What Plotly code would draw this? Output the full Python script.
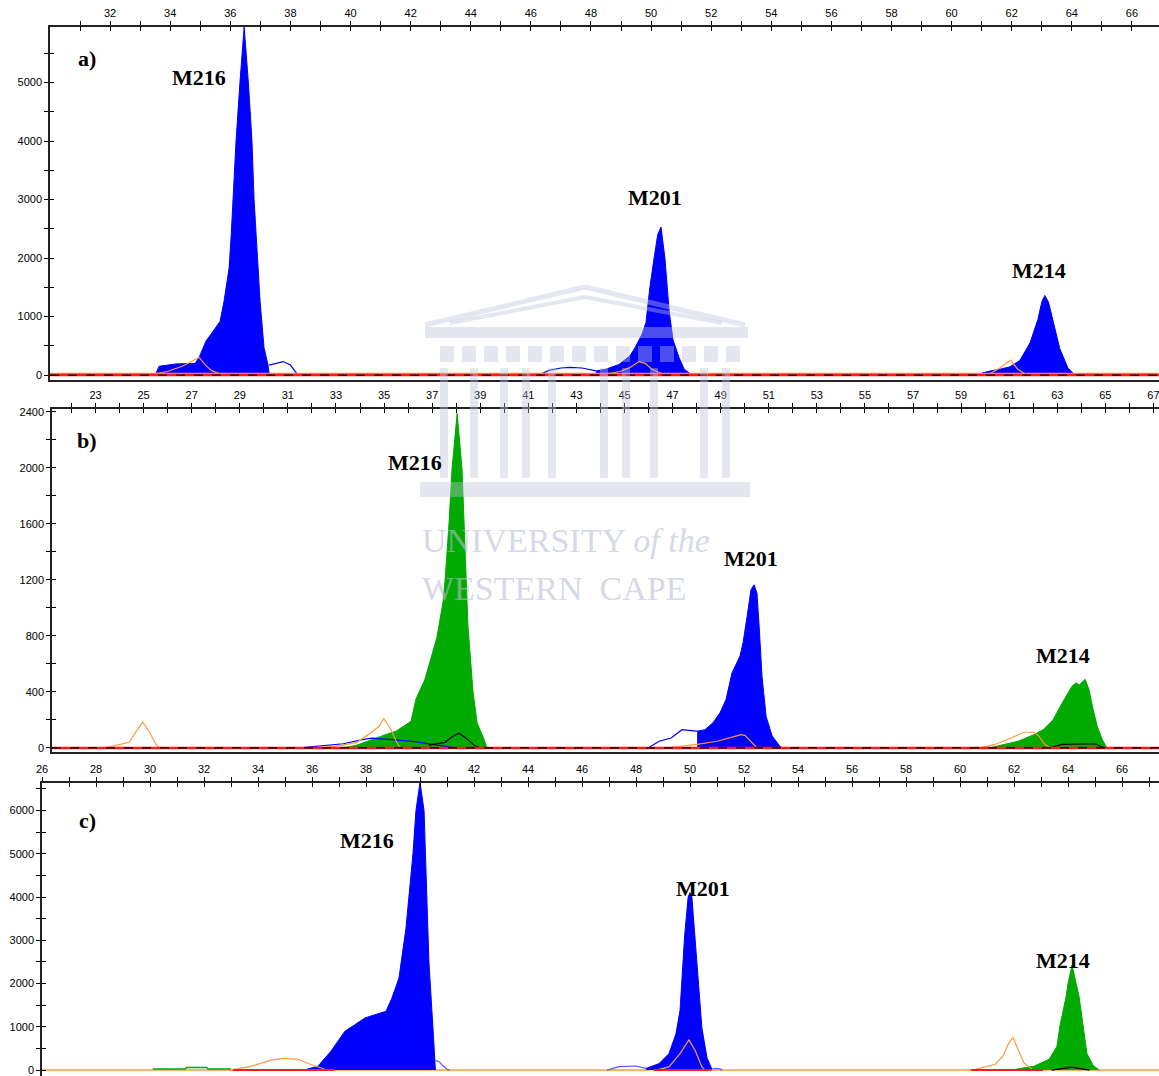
import plotly.graph_objects as go

W, H = 1159, 1076

# ---------------- Panel a data ----------------
A_M216_X = [33.50, 33.63, 34.20, 34.83, 34.96, 35.19, 35.39, 35.66, 35.79, 35.96, 36.03, 36.09, 36.19, 36.32, 36.46, 36.60, 36.72, 36.79, 36.86, 36.99, 37.12, 37.25, 37.30]
A_M216_Y = [0, 150, 190, 200, 300, 580, 720, 920, 1260, 1830, 2400, 3000, 4000, 5000, 5950, 5000, 4000, 3000, 2400, 1260, 470, 180, 0]
A_M216_TAIL_X = [37.28, 37.50, 37.76, 38.00, 38.15, 38.25]
A_M216_TAIL_Y = [170, 200, 230, 170, 60, 0]
A_M201_PRE_X = [46.27, 46.60, 47.00, 47.30, 47.70, 48.00, 48.17]
A_M201_PRE_Y = [0, 80, 120, 130, 120, 90, 70]
A_M201_X = [48.17, 48.50, 48.93, 49.30, 49.47, 49.70, 49.83, 49.96, 50.10, 50.22, 50.33, 50.46, 50.60, 50.73, 50.93, 51.10, 51.36]
A_M201_Y = [70, 100, 180, 330, 470, 700, 900, 1500, 2000, 2400, 2530, 2000, 1100, 600, 300, 100, 0]
A_M214_X = [60.78, 61.20, 61.61, 61.94, 62.27, 62.61, 62.87, 63.00, 63.10, 63.22, 63.34, 63.60, 63.87, 64.10]
A_M214_Y = [0, 60, 100, 140, 250, 550, 950, 1250, 1360, 1250, 1000, 450, 120, 0]
A_OR1_X = [33.30, 33.90, 34.40, 34.96, 35.19, 35.39, 35.66, 35.93]
A_OR1_Y = [0, 60, 150, 300, 160, 70, 20, 0]
A_OR2_X = [48.30, 48.97, 49.30, 49.60, 49.80, 50.03, 50.46]
A_OR2_Y = [0, 60, 130, 230, 200, 100, 0]
A_OR3_X = [61.20, 61.60, 61.97, 62.20, 62.50]
A_OR3_Y = [0, 120, 256, 100, 0]
A_BASE_X = [30.0, 66.9]
A_BASE_Y = [0, 0]

# ---------------- Panel b data ----------------
B_OR1_X = [23.40, 24.00, 24.40, 24.70, 24.97, 25.25, 25.50, 25.65]
B_OR1_Y = [0, 25, 40, 120, 185, 110, 30, 0]
B_M216_X = [33.29, 33.87, 35.08, 35.50, 36.12, 36.33, 36.70, 36.99, 37.20, 37.45, 37.54, 37.70, 37.83, 38.04, 38.24, 38.33, 38.41, 38.49, 38.70, 38.87, 39.16, 39.28]
B_M216_Y = [0, 20, 96, 120, 190, 350, 490, 660, 790, 1040, 1200, 1600, 2000, 2390, 2000, 1600, 1200, 870, 400, 180, 60, 0]
B_BLUE1_X = [31.50, 32.40, 33.30, 34.10, 34.50, 35.30, 36.30, 37.00, 37.60, 38.00]
B_BLUE1_Y = [0, 15, 30, 60, 70, 60, 45, 25, 10, 0]
B_OR2_X = [32.38, 33.30, 33.87, 34.46, 34.79, 34.99, 35.29, 35.50, 35.67]
B_OR2_Y = [0, 20, 40, 108, 155, 210, 130, 50, 0]
B_BLK1_X = [36.87, 37.54, 37.83, 38.12, 38.41, 38.78, 39.00]
B_BLK1_Y = [20, 40, 80, 105, 70, 15, 0]
B_M201_PRE_X = [45.98, 46.44, 46.94, 47.39, 47.97, 48.02]
B_M201_PRE_Y = [0, 48, 71, 130, 120, 120]
B_M201_X = [48.02, 48.35, 48.68, 48.97, 49.22, 49.47, 49.80, 49.93, 50.10, 50.26, 50.39, 50.51, 50.60, 50.72, 50.89, 51.14, 51.47, 51.60]
B_M201_Y = [120, 130, 180, 250, 345, 535, 655, 750, 940, 1130, 1165, 1105, 870, 510, 225, 85, 10, 0]
B_OR3_X = [46.77, 48.02, 48.85, 49.31, 49.85, 50.01, 50.26, 50.51]
B_OR3_Y = [0, 25, 48, 71, 95, 90, 48, 0]
B_M214_X = [60.20, 60.41, 61.37, 62.03, 62.41, 62.82, 63.20, 63.61, 63.78, 63.91, 64.16, 64.32, 64.49, 64.66, 64.87, 65.03, 65.10]
B_M214_Y = [0, 10, 48, 95, 130, 200, 320, 440, 465, 450, 490, 415, 275, 155, 60, 10, 0]
B_OR4_X = [59.79, 60.41, 61.08, 61.62, 62.03, 62.24, 62.49, 62.74]
B_OR4_Y = [0, 25, 71, 112, 112, 83, 24, 0]
B_BLK2_X = [62.70, 63.20, 64.20, 64.60, 64.80, 65.00]
B_BLK2_Y = [0, 25, 28, 28, 10, 0]
B_BASE_X = [21.19, 67.23]
B_BASE_Y = [0, 0]

# ---------------- Panel c data ----------------
C_M216_X = [35.70, 36.22, 36.70, 37.22, 37.59, 37.96, 38.33, 38.74, 38.96, 39.22, 39.48, 39.67, 39.74, 39.85, 40.00, 40.15, 40.22, 40.33, 40.48, 40.55, 40.57]
C_M216_Y = [0, 90, 435, 900, 1050, 1205, 1280, 1360, 1665, 2125, 3280, 4430, 5000, 6000, 6650, 6000, 4430, 2500, 975, 220, 0]
C_M216_TAIL_X = [40.57, 40.70, 40.85, 41.00, 41.10]
C_M216_TAIL_Y = [220, 200, 100, 20, 0]
C_OR1_X = [32.96, 33.70, 34.48, 34.96, 35.48, 35.96, 36.48, 36.70]
C_OR1_Y = [0, 80, 230, 270, 250, 130, 20, 0]
C_GRN1_X = [30.10, 31.30, 31.35, 32.10, 32.15, 33.00]
C_GRN1_Y = [25, 25, 60, 60, 25, 25]
C_M201_PRE_X = [46.93, 47.37, 48.00, 48.37]
C_M201_PRE_Y = [0, 80, 95, 40]
C_M201_X = [48.37, 48.85, 49.22, 49.48, 49.63, 49.74, 49.80, 49.93, 50.00, 50.07, 50.19, 50.30, 50.44, 50.63, 50.81]
C_M201_Y = [40, 150, 380, 840, 1380, 2500, 3100, 4000, 4100, 4000, 3000, 2000, 975, 285, 20]
C_M201_TAIL_X = [50.81, 50.95, 51.11, 51.20]
C_M201_TAIL_Y = [20, 40, 30, 0]
C_OR2_X = [48.74, 49.22, 49.63, 49.96, 50.19, 50.44, 50.56]
C_OR2_Y = [0, 75, 380, 700, 455, 75, 0]
C_M214_X = [61.89, 62.74, 63.30, 63.59, 63.70, 63.85, 63.93, 64.00, 64.15, 64.30, 64.41, 64.56, 64.70, 64.93, 65.15]
C_M214_Y = [0, 90, 250, 550, 1020, 1475, 1700, 2000, 2430, 2000, 1700, 1020, 385, 110, 0]
C_OR3_X = [60.48, 61.30, 61.59, 61.81, 61.96, 62.15, 62.37, 62.67, 62.81]
C_OR3_Y = [0, 135, 320, 630, 750, 475, 165, 20, 0]
C_BLK_X = [63.40, 63.80, 64.15, 64.50, 64.80]
C_BLK_Y = [0, 30, 70, 30, 0]
C_RED_SEGS = [([33.07, 36.85], [0, 0]), ([48.67, 50.78], [0, 0]), ([60.41, 63.07], [0, 0])]
C_BASE_X = [26.0, 67.37]
C_BASE_Y = [0, 0]

# ---------------- Axis ticks ----------------
A_XTICKS = list(range(31, 67))
A_XLABELS = [str(v) if v % 2 == 0 else "" for v in A_XTICKS]
B_XTICKS = list(range(22, 68))
B_XLABELS = [str(v) if v % 2 == 1 else "" for v in B_XTICKS]
C_XTICKS = list(range(26, 68))
C_XLABELS = [str(v) if v % 2 == 0 else "" for v in C_XTICKS]
A_YTICKS = list(range(0, 6000, 500))
A_YLABELS = [str(v) if v % 1000 == 0 else "" for v in A_YTICKS]
B_YTICKS = list(range(0, 2401, 200))
B_YLABELS = [str(v) if v % 400 == 0 else "" for v in B_YTICKS]
C_YTICKS = list(range(0, 6501, 500))
C_YLABELS = [str(v) if v % 1000 == 0 else "" for v in C_YTICKS]

BLUE = "#0000ff"
GREEN = "#00aa00"
ORANGE = "#ff9a3c"
RED = "#ff1a1a"
BLACK = "#000000"

fig = go.Figure()


def fill(x, y, color, xa, ya):
    fig.add_trace(go.Scatter(x=x, y=y, mode="lines", fill="tozeroy", fillcolor=color,
                             line=dict(color=color, width=1), xaxis=xa, yaxis=ya, hoverinfo="skip"))


def line(x, y, color, xa, ya, width=1.2, dash=None):
    fig.add_trace(go.Scatter(x=x, y=y, mode="lines",
                             line=dict(color=color, width=width, dash=dash),
                             xaxis=xa, yaxis=ya, hoverinfo="skip"))


# Panel a
fill(A_M216_X, A_M216_Y, BLUE, "x", "y")
fill(A_M201_X, A_M201_Y, BLUE, "x", "y")
fill(A_M214_X, A_M214_Y, BLUE, "x", "y")
line(A_M216_TAIL_X, A_M216_TAIL_Y, BLUE, "x", "y", 1.2)
line(A_M201_PRE_X, A_M201_PRE_Y, BLUE, "x", "y", 1.2)
line(A_BASE_X, [v + 25 for v in A_BASE_Y], ORANGE, "x", "y", 1.5)
line(A_OR1_X, A_OR1_Y, ORANGE, "x", "y")
line(A_OR2_X, A_OR2_Y, ORANGE, "x", "y")
line(A_OR3_X, A_OR3_Y, ORANGE, "x", "y")
line(A_BASE_X, A_BASE_Y, RED, "x", "y", 2.5)
line(A_BASE_X, A_BASE_Y, BLACK, "x", "y", 1.2, "dash")

# Panel b
fill(B_M216_X, B_M216_Y, GREEN, "x2", "y2")
fill(B_M201_X, B_M201_Y, BLUE, "x2", "y2")
fill(B_M214_X, B_M214_Y, GREEN, "x2", "y2")
line(B_BLUE1_X, B_BLUE1_Y, BLUE, "x2", "y2")
line(B_M201_PRE_X, B_M201_PRE_Y, BLUE, "x2", "y2")
line(B_OR1_X, B_OR1_Y, ORANGE, "x2", "y2")
line(B_OR2_X, B_OR2_Y, ORANGE, "x2", "y2")
line(B_OR3_X, B_OR3_Y, ORANGE, "x2", "y2")
line(B_OR4_X, B_OR4_Y, ORANGE, "x2", "y2")
line(B_BLK1_X, B_BLK1_Y, BLACK, "x2", "y2")
line(B_BLK2_X, B_BLK2_Y, BLACK, "x2", "y2")
line(B_BASE_X, B_BASE_Y, RED, "x2", "y2", 2.5)
line(B_BASE_X, B_BASE_Y, BLACK, "x2", "y2", 1.2, "dash")

# Panel c
line(C_BASE_X, C_BASE_Y, ORANGE, "x3", "y3", 1.5)
line(C_GRN1_X, C_GRN1_Y, GREEN, "x3", "y3", 1.5)
fill(C_M216_X, C_M216_Y, BLUE, "x3", "y3")
fill(C_M201_X, C_M201_Y, BLUE, "x3", "y3")
fill(C_M214_X, C_M214_Y, GREEN, "x3", "y3")
line(C_M216_TAIL_X, C_M216_TAIL_Y, "#5555ff", "x3", "y3")
line(C_M201_PRE_X, C_M201_PRE_Y, "#5555ff", "x3", "y3")
line(C_M201_TAIL_X, C_M201_TAIL_Y, "#5555ff", "x3", "y3")
line(C_OR1_X, C_OR1_Y, ORANGE, "x3", "y3")
line(C_OR2_X, C_OR2_Y, ORANGE, "x3", "y3")
line(C_OR3_X, C_OR3_Y, ORANGE, "x3", "y3")
line(C_BLK_X, C_BLK_Y, BLACK, "x3", "y3")
for sx, sy in C_RED_SEGS:
    line(sx, sy, RED, "x3", "y3", 2)

# dummy traces for overlay (inside tick) axes
for xa, ya, xr in (("x4", "y4", A_BASE_X), ("x5", "y5", B_BASE_X), ("x6", "y6", C_BASE_X)):
    fig.add_trace(go.Scatter(x=xr, y=[0, 0], mode="markers", marker=dict(opacity=0),
                             xaxis=xa, yaxis=ya, hoverinfo="skip"))


def py(p):
    return 1 - p / H


def px(p):
    return p / W


TICKFONT = dict(family="Liberation Sans, Arial, sans-serif", size=11, color="#000")

panels = [
    (50, 27, 380, [30.0, 66.9], [-85, 5950], A_XTICKS, A_XLABELS, A_YTICKS, A_YLABELS),
    (52, 409, 752, [21.19, 67.23], [-29, 2421], B_XTICKS, B_XLABELS, B_YTICKS, B_YLABELS),
    (42, 783, 1076, [26.0, 67.37], [-136, 6636], C_XTICKS, C_XLABELS, C_YTICKS, C_YLABELS),
]

layout = {}
for i, (xl, yt, yb, xr, yr, xt, xlab, yt_, ylab) in enumerate(panels):
    n = i + 1
    o = i + 4
    xk = "xaxis" if n == 1 else f"xaxis{n}"
    yk = "yaxis" if n == 1 else f"yaxis{n}"
    xid = "x" if n == 1 else f"x{n}"
    yid = "y" if n == 1 else f"y{n}"
    xdom = [px(xl), 1]
    ydom = [max(0, py(yb)), py(yt)]
    layout[xk] = dict(domain=xdom, anchor=yid, side="top", range=xr, tickmode="array",
                      tickvals=xt, ticktext=xlab, ticks="outside", ticklen=4, tickwidth=1,
                      tickcolor="#000", showline=True, linecolor="#222", linewidth=1.5,
                      mirror=True, showgrid=False, zeroline=False, tickfont=TICKFONT,
                      automargin=False, ticklabeloverflow="allow")
    layout[yk] = dict(domain=ydom, anchor=xid, side="left", range=yr, tickmode="array",
                      tickvals=yt_, ticktext=ylab, ticks="outside", ticklen=4, tickwidth=1,
                      tickcolor="#000", showline=True, linecolor="#222", linewidth=1.5,
                      showgrid=False, zeroline=False, tickfont=TICKFONT, automargin=False,
                      ticklabeloverflow="allow")
    layout[f"xaxis{o}"] = dict(domain=xdom, overlaying=xid, anchor=yid, side="top", range=xr,
                               tickmode="array", tickvals=xt, ticks="inside", ticklen=4,
                               tickwidth=1, tickcolor="#000", showticklabels=False,
                               showline=False, showgrid=False, zeroline=False, automargin=False)
    layout[f"yaxis{o}"] = dict(domain=ydom, overlaying=yid, anchor=xid, side="left", range=yr,
                               tickmode="array", tickvals=yt_, ticks="inside", ticklen=4,
                               tickwidth=1, tickcolor="#000", showticklabels=False,
                               showline=False, showgrid=False, zeroline=False, automargin=False)

LABELS = [
    ("a)", 87, 58), ("M216", 199, 78), ("M201", 655, 198), ("M214", 1039, 270),
    ("b)", 87, 440), ("M216", 415, 462), ("M201", 751, 558), ("M214", 1063, 655),
    ("c)", 87, 820), ("M216", 367, 840), ("M201", 703, 888), ("M214", 1063, 960),
]
annotations = []
for t, x, y in LABELS:
    annotations.append(dict(text=f"<b>{t}</b>", x=px(x), y=py(y), xref="paper", yref="paper",
                            showarrow=False, xanchor="center", yanchor="middle",
                            font=dict(family="Liberation Serif, Times New Roman, serif", size=22, color="#000")))

WM = "rgba(190,195,218,0.4)"
WM_TXT = "rgba(185,190,215,0.6)"
annotations.append(dict(text="UNIVERSITY <i>of the</i>", x=px(420), y=py(540), xref="paper", yref="paper",
                        showarrow=False, xanchor="left", yanchor="middle",
                        font=dict(family="Liberation Serif, serif", size=34, color=WM_TXT)))
annotations.append(dict(text="WESTERN  CAPE", x=px(420), y=py(588), xref="paper", yref="paper",
                        showarrow=False, xanchor="left", yanchor="middle",
                        font=dict(family="Liberation Serif, serif", size=34, color=WM_TXT)))

shapes = []


def seg(x0, y0, x1, y1, w=5):
    shapes.append(dict(type="line", xref="paper", yref="paper", x0=px(x0), y0=py(y0),
                       x1=px(x1), y1=py(y1), line=dict(color=WM, width=w), layer="above"))


def box(x0, y0, x1, y1):
    shapes.append(dict(type="rect", xref="paper", yref="paper", x0=px(x0), y0=py(y0),
                       x1=px(x1), y1=py(y1), line=dict(width=0), fillcolor=WM, layer="above"))


seg(425, 325, 585, 287)
seg(585, 287, 745, 325)
seg(450, 323, 585, 297, 4)
seg(585, 297, 722, 323, 4)
box(425, 327, 748, 338)
for xx in range(440, 735, 22):
    box(xx, 346, xx + 14, 362)
for xx in (440, 470, 500, 522, 548, 600, 622, 650, 700, 722):
    box(xx, 368, xx + 8, 478)
box(420, 482, 750, 497)

fig.update_layout(width=W, height=H, margin=dict(l=0, r=0, t=0, b=0, autoexpand=False),
                  showlegend=False, paper_bgcolor="white", plot_bgcolor="white",
                  annotations=annotations, shapes=shapes, **layout)

fig.write_html("out.html", config={"displayModeBar": False},
               post_script="document.body.style.margin='0';document.body.style.padding='0';"
                           "document.body.style.overflow='hidden';")
